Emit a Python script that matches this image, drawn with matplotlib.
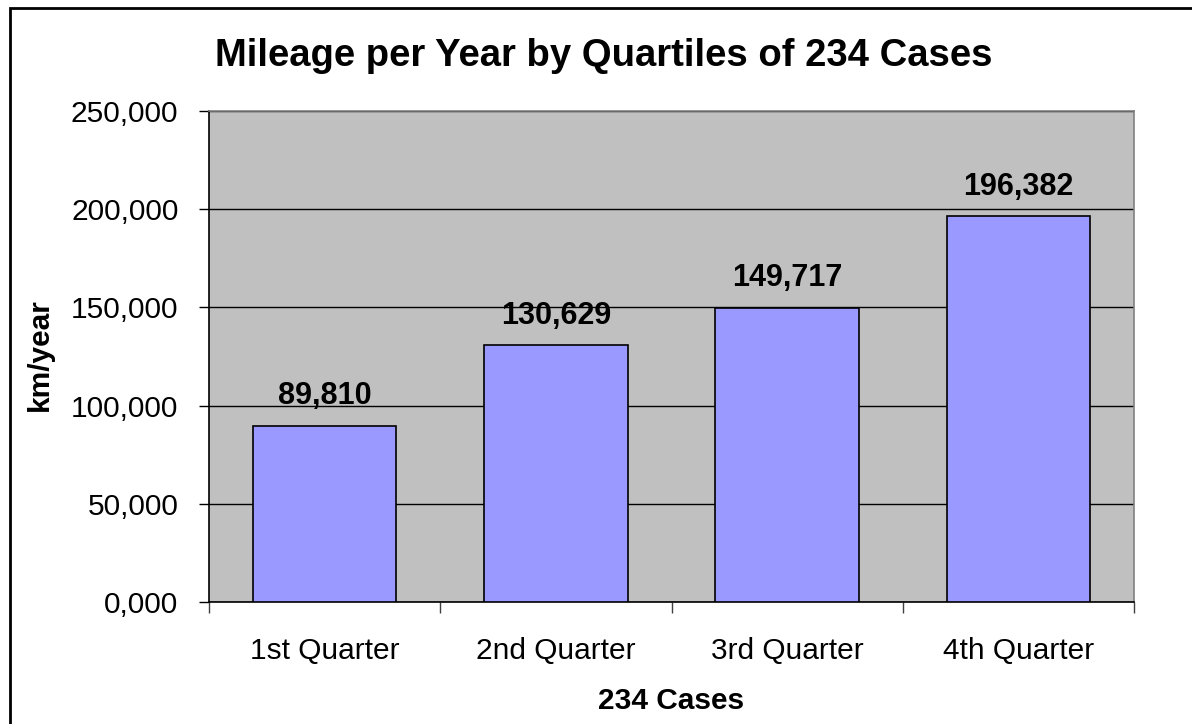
import matplotlib
matplotlib.use("Agg")
import matplotlib.pyplot as plt
from matplotlib.patches import Rectangle
from matplotlib.ticker import FuncFormatter, MultipleLocator

quarters = ["1st Quarter", "2nd Quarter", "3rd Quarter", "4th Quarter"]
mileage = [89810, 130629, 149717, 196382]


def fmt(v, pos=None):
    return f"{v / 1000:.3f}".replace(".", ",")


plt.rcParams["font.family"] = ["Liberation Sans", "DejaVu Sans"]

W, H = 1192, 724
fig = plt.figure(figsize=(W / 100, H / 100), dpi=100, facecolor="white")

# outer chart frame (runs off the right and bottom edges)
fig.patches.append(Rectangle((10 / W, -0.05), 1.1, 1 - 8 / H + 0.05,
                             transform=fig.transFigure, fill=False,
                             edgecolor="black", linewidth=2))

left, right, top, bottom = 209, 1134, 111, 602
ax = fig.add_axes([left / W, 1 - bottom / H, (right - left) / W, (bottom - top) / H])
ax.set_facecolor("#C0C0C0")

x = range(len(quarters))
ax.bar(x, mileage, width=0.62, color="#9999FF", edgecolor="black", linewidth=1.2, zorder=3)

for xi, v in zip(x, mileage):
    ax.annotate(fmt(v), (xi, v), xytext=(0, 15.5), textcoords="offset points",
                ha="center", va="baseline", fontsize=22, fontweight="bold", zorder=4)

ax.set_xlim(-0.5, len(quarters) - 0.5)
ax.set_ylim(0, 250000)
ax.yaxis.set_major_locator(MultipleLocator(50000))
ax.yaxis.set_major_formatter(FuncFormatter(fmt))
ax.grid(axis="y", color="black", linewidth=1, zorder=1)

ax.set_xticks([i + 0.5 for i in range(-1, len(quarters))])
ax.set_xticklabels([])
ax.set_xticks(list(x), minor=True)
ax.set_xticklabels(quarters, minor=True)
ax.tick_params(axis="x", which="major", length=8, width=1, color="#404040", direction="out")
ax.tick_params(axis="x", which="minor", length=0, pad=25, labelsize=21.5)
ax.tick_params(axis="y", length=7, width=1, color="black", labelsize=21.5, pad=15)

for side in ["top", "right"]:
    ax.spines[side].set_color("#808080")
    ax.spines[side].set_linewidth(1.2)
for side in ["left", "bottom"]:
    ax.spines[side].set_color("black")
    ax.spines[side].set_linewidth(1.2)

fig.text(40 / W, 1 - 355 / H, "km/year", rotation=90, ha="center", va="center",
         fontsize=21.5, fontweight="bold")
fig.text(671 / W, 1 - 709 / H, "234 Cases", ha="center", va="baseline",
         fontsize=21.5, fontweight="bold")
fig.text(604 / W, 1 - 66 / H, "Mileage per Year by Quartiles of 234 Cases",
         ha="center", va="baseline", fontsize=27.5, fontweight="bold")

fig.savefig("out.png", dpi=100, facecolor="white")
